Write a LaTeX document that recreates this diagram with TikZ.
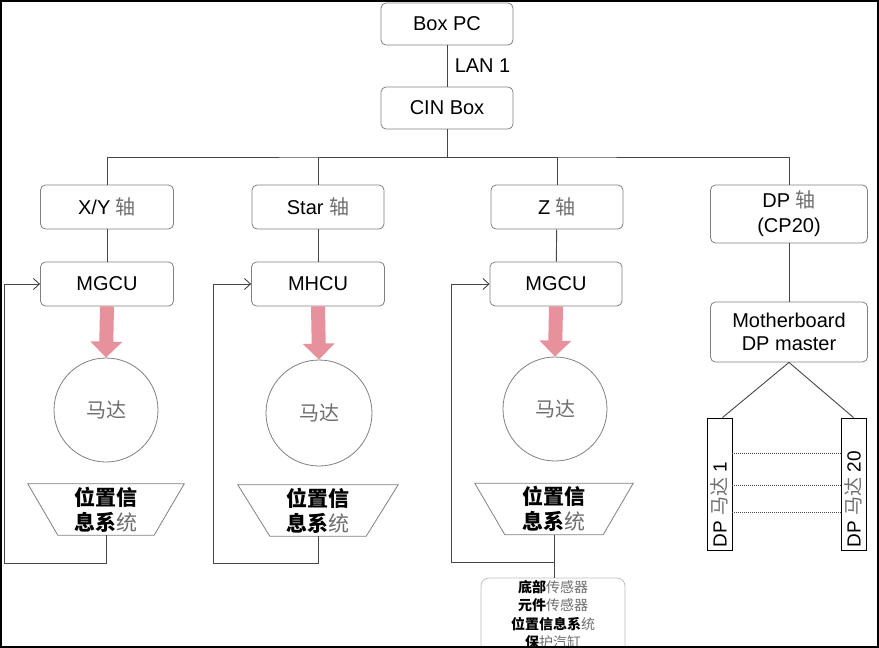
\documentclass[tikz,border=0pt]{standalone}
\usepackage{fontspec}
\setmainfont{Liberation Sans}
\newfontfamily\cjk{Noto Sans CJK SC}
\usetikzlibrary{arrows.meta,calc}
\definecolor{boxline}{RGB}{128,128,128}
\definecolor{connline}{RGB}{70,70,70}
\definecolor{pinkarrow}{RGB}{230,145,155}
\definecolor{lightcjk}{RGB}{110,110,110}
\newcommand{\lt}[1]{{\cjk\color{lightcjk}#1}}
\newcommand{\bd}[1]{{\cjk\bfseries #1}}
\begin{document}
\begin{tikzpicture}[x=1pt,y=-1pt,
  box/.style={draw=boxline, rounded corners=5pt, line width=0.8pt, font=\fontsize{20}{23.5}\selectfont, align=center, inner sep=0pt},
  conn/.style={draw=connline, line width=0.9pt},
  fb/.style={draw=connline, line width=0.9pt, -{Straight Barb[length=6pt,width=11pt]}},
  motor/.style={circle, draw=boxline, line width=0.8pt, inner sep=0pt, font=\fontsize{20}{24}\selectfont},
  drive/.style={draw=pinkarrow, line width=14pt, -{Triangle[width=31pt,length=16pt]}, color=pinkarrow},
  trap/.style={inner sep=0pt, minimum width=156pt, minimum height=51pt, align=center, font=\fontsize{21}{25}\selectfont},
  bar/.style={draw=black, line width=0.9pt, minimum width=25pt, minimum height=132pt, inner sep=0pt},
  bartext/.style={rotate=90, anchor=west, font=\fontsize{19}{22}\selectfont, inner sep=0pt},
  dots/.style={draw=connline, line width=0.9pt, dash pattern=on 1pt off 1pt}
]
\useasboundingbox (0,0) rectangle (879,648);
\draw[line width=2pt] (1,1) rectangle (877.5,646.5);

% top boxes
\node[box, minimum width=132pt, minimum height=42pt] (boxpc) at (447,24) {Box PC};
\node[box, minimum width=132pt, minimum height=42pt] (cin) at (447,108) {CIN Box};
\draw[conn] (boxpc) -- node[right=4pt, font=\fontsize{20}{24}\selectfont] (lan) {LAN 1} (cin);

% axis boxes
\node[box, minimum width=133pt, minimum height=44pt] (xy) at (107,207) {X/Y \lt{轴}};
\node[box, minimum width=132pt, minimum height=44pt] (star) at (318,207) {Star \lt{轴}};
\node[box, minimum width=132pt, minimum height=44pt] (z) at (557,207) {Z \lt{轴}};
\node[box, minimum width=157pt, minimum height=58pt, font=\fontsize{20}{25}\selectfont] (dp) at (789,214) {DP \lt{轴}\\(CP20)};

\coordinate (bus) at (447,157);
\draw[conn] (cin.south) -- (bus);
\draw[conn] (xy.north) |- (bus) -| (dp.north);
\draw[conn] (star.north) |- (bus);
\draw[conn] (z.north) |- (bus);

% controllers
\node[box, minimum width=133pt, minimum height=44pt] (mgcu1) at (107,284) {MGCU};
\node[box, minimum width=133pt, minimum height=44pt] (mhcu) at (318,284) {MHCU};
\node[box, minimum width=132pt, minimum height=44pt] (mgcu3) at (556,284) {MGCU};
\draw[conn] (xy) -- (mgcu1);
\draw[conn] (star) -- (mhcu);
\draw[conn] (z) -- (mgcu3);

% motors
\node[motor, minimum size=104pt] (m1) at (106,410) {\lt{马达}};
\node[motor, minimum size=106pt] (m2) at (319,413) {\lt{马达}};
\node[motor, minimum size=104pt] (m3) at (555,409) {\lt{马达}};
\draw[drive] (mgcu1.south) -- (m1.north);
\draw[drive] (mhcu.south) -- (m2.north);
\draw[drive] (mgcu3.south) -- (m3.north);

% trapezoids
\node[trap] (t1) at (106,509.5) {\bd{位置信}\\\bd{息系}\lt{统}};
\node[trap, minimum width=160pt] (t2) at (318,510.5) {\bd{位置信}\\\bd{息系}\lt{统}};
\node[trap, minimum width=158pt] (t3) at (554,509) {\bd{位置信}\\\bd{息系}\lt{统}};
\foreach \t/\d in {t1/30,t2/32,t3/30}{
  \draw[draw=boxline, line width=0.8pt] (\t.north west) -- (\t.north east) -- ([xshift=-\d pt]\t.south east) -- ([xshift=\d pt]\t.south west) -- cycle;
}

% sensor box (clipped by frame)
\begin{scope}
\clip (0,0) rectangle (879,645.5);
\node[draw=black!25, rounded corners=8pt, line width=0.8pt, minimum width=144pt, minimum height=84pt, inner sep=0pt] (sens) at (553,620) {};
\node[align=center, inner sep=0pt, font=\fontsize{14}{18.5}\selectfont] (senstext) at (553,614.5)
  {\bd{底部}\lt{传感器}\\\bd{元件}\lt{传感器}\\\bd{位置信息系}\lt{统}\\\bd{保}\lt{护汽缸}};
\end{scope}

% feedback loops
\coordinate (fb1) at (4,563);
\coordinate (fb2) at (213,563);
\coordinate (fb3) at (451,562);
\draw[fb] (t1.south) |- (fb1) |- (mgcu1.west);
\draw[fb] (t2.south) |- (fb2) |- (mhcu.west);
\draw[fb] (t3.south) |- (fb3) |- (mgcu3.west);
\draw[conn] (t3.south) -- (sens.north -| t3.south);

% DP branch
\node[box, minimum width=157pt, minimum height=60pt] (mb) at (789,332) {Motherboard\\DP master};
\draw[conn] (dp) -- (mb);
\node[bar] (bar1) at (719.5,484) {};
\node[bar] (bar2) at (853.5,484) {};
\node[bartext] (bar1t) at ([yshift=3pt]bar1.south) {DP \lt{马达} 1};
\node[bartext] (bar2t) at ([yshift=3pt]bar2.south) {DP \lt{马达} 20};
\draw[conn] ([xshift=3pt]bar1.north) -- (mb.south) -- (bar2.north);
\foreach \s in {-36,-68,-95}{
  \draw[dots] ([yshift=\s pt]bar1.north east) -- ([yshift=\s pt]bar2.north west);
}
\end{tikzpicture}
\end{document}
